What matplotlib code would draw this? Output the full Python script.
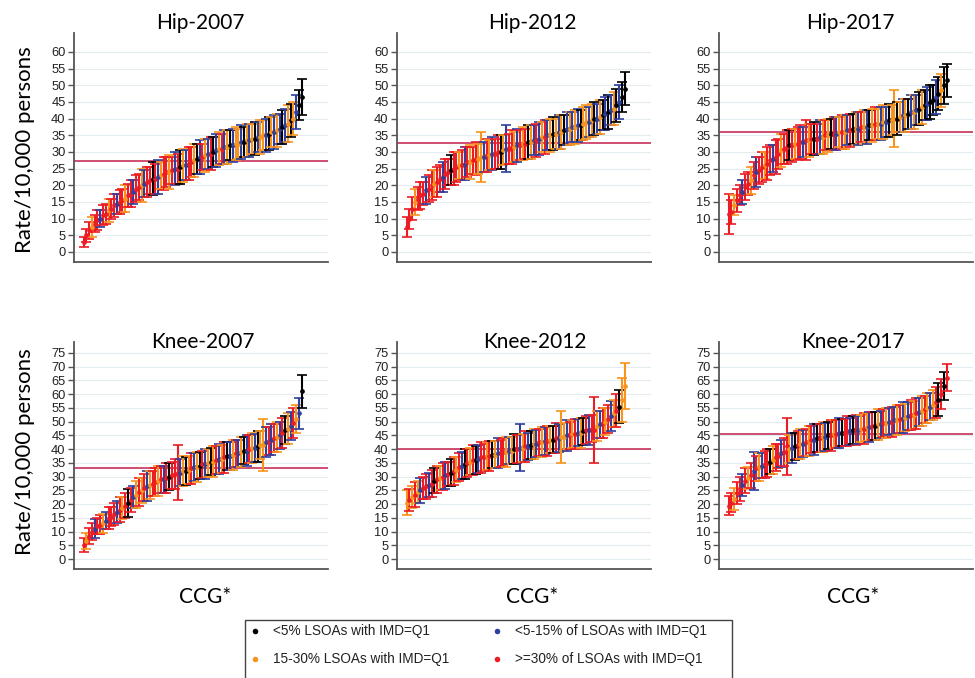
import numpy as np
import matplotlib
matplotlib.use("Agg")
import matplotlib.pyplot as plt
from matplotlib.patches import Rectangle

# ---------------- data ----------------
titles = ["Hip-2007", "Hip-2012", "Hip-2017", "Knee-2007", "Knee-2012", "Knee-2017"]

hip07_rate = [3, 5, 6.5, 7.5, 8.5, 9.5, 10, 11, 11.5, 12.5,
              13, 14, 14.5, 15, 15.5, 16, 17, 17.5, 18, 19,
              19.5, 20, 20.5, 21, 21.5, 22, 22, 22.5, 23, 23.5,
              24, 24, 24.5, 25, 25, 25.5, 26, 26, 26.5, 27,
              27.5, 28, 28.5, 28.5, 29, 29.5, 29.5, 30, 30.5, 31,
              31, 31.5, 31.5, 32, 32, 32.5, 32.5, 33, 33, 33.5,
              33.5, 34, 34, 34.5, 34.5, 35, 35, 35.5, 36, 36,
              36.5, 37, 37.5, 38, 38.5, 39.5, 40, 42, 44, 46.5]
hip07_hw = [1.5, 2, 2.5, 3, 2.5, 3, 2.5, 3, 3, 3.5,
            3, 3.5, 3, 3.5, 3.5, 4, 3.5, 4, 3.5, 4,
            4, 5, 4, 4.5, 4, 5, 4.5, 5, 4, 5,
            4.5, 5, 4, 5, 4.5, 5, 5, 4.5, 5, 4.5,
            5, 4.5, 5, 4, 5, 4.5, 5, 4.5, 5, 5,
            4.5, 5, 5, 4.5, 5, 5, 4.5, 5, 4.5, 5,
            5, 4.5, 5, 4.5, 5, 4.5, 5, 5, 4.5, 5,
            5, 4.5, 5, 5, 5.5, 5, 5, 5, 4.5, 5.5]
hip07_cat = "RRRORRBRRO RRBRRORRBR ROBRRKRBOR RORBRKOBRR OKBROBRKBO RBOKBOOBKO BOKBOOBKOB OBKBOKOBKK"

hip12_rate = [7.5, 10, 13, 15, 16, 17, 17.5, 18.5, 19, 20,
              20.5, 21, 22, 22.5, 23.5, 24, 24.5, 25, 25.5, 26,
              26, 26.5, 27, 27, 27.5, 28, 28, 28.5, 28.5, 29,
              29, 29.5, 29.5, 30, 30, 30.5, 31, 31, 31.5, 31.5,
              32, 32, 32.5, 32.5, 33, 33, 33.5, 33.5, 34, 34.5,
              34.5, 35, 35, 35.5, 35.5, 36, 36, 36.5, 37, 37,
              37.5, 37.5, 38, 38, 38.5, 39, 39, 39.5, 40, 40,
              40.5, 41, 41.5, 42, 42.5, 43, 44, 45, 46.5, 49]
hip12_hw = [3, 3, 3.5, 4, 3.5, 4, 3.5, 4, 4, 4.5,
            4, 4.5, 4, 4.5, 4.5, 4, 4.5, 5, 4.5, 4,
            4.5, 5, 4.5, 5, 4, 5, 4.5, 7.5, 4.5, 5,
            4.5, 5, 4.5, 5, 5, 4.5, 7, 4.5, 5, 4.5,
            5, 4.5, 5, 4.5, 5, 5, 4.5, 5, 5, 4.5,
            5, 4.5, 5, 5, 4.5, 5, 5, 4.5, 5, 5,
            4.5, 5, 5, 4.5, 5, 5, 4.5, 5, 5, 4.5,
            5, 4.5, 5, 5, 4.5, 5, 5, 5, 4.5, 5]
hip12_cat = "RRRORRRBRR ORRBRRKRRO RBRORROOBR OBRRKOBRRO BRORKOBRBO RBOKOBOKBO BOBKOOBOKB OKBKBOKBKK"

hip17_rate = [11.5, 12, 14, 15.5, 17, 18, 19.5, 20.5, 21.5, 23,
              24, 24.5, 25.5, 26, 26.5, 27.5, 28, 28.5, 29.5, 30.5,
              31, 31.5, 32, 32, 32.5, 32.5, 33, 33, 33.5, 33.5,
              34, 34, 34, 34.5, 34.5, 35, 35, 35.5, 35.5, 35.5,
              36, 36, 36, 36.5, 36.5, 37, 37, 37, 37.5, 37.5,
              37.5, 38, 38, 38.5, 38.5, 38.5, 39, 39, 39.5, 39.5,
              40, 40, 40.5, 41, 41, 41.5, 42, 42, 42.5, 43,
              43.5, 44, 44.5, 45, 45.5, 46.5, 47.5, 48.5, 50, 51.5]
hip17_hw = [6, 3.5, 3, 3.5, 3, 3.5, 4, 3.5, 4, 4,
            4.5, 4, 4.5, 4, 5, 4.5, 4, 5, 4.5, 5,
            4.5, 5, 4.5, 5, 4.5, 5, 5, 4.5, 6, 5,
            4.5, 5, 4.5, 5, 5, 4.5, 5, 4.5, 5, 5,
            4.5, 5, 5, 4.5, 5, 4.5, 5, 5, 4.5, 5,
            5, 4.5, 5, 5, 4.5, 5, 5, 4.5, 5, 4.5,
            8.5, 5, 4.5, 5, 5, 4.5, 5, 5, 4.5, 5,
            5, 4.5, 5, 5, 4.5, 5, 5, 5, 5.5, 5]
hip17_cat = "RRORRBRROR BRRORRBRRO RRKRORRBRO RKRBOROKRB OROBRKOBRO BKOROBOBKO OKOBOKBOBK OKBKKBKOKK"

knee07_rate = [5, 6.5, 8.5, 10, 11, 12, 12.5, 13, 14, 15,
               15.5, 16.5, 17, 18, 18.5, 19.5, 20.5, 21.5, 22.5, 23.5,
               24.5, 25, 26, 26.5, 27, 27.5, 28, 28.5, 29, 29,
               29.5, 30, 30.5, 31, 31.5, 31.5, 32, 32, 32.5, 33,
               33.5, 33.5, 34, 34.5, 34.5, 35, 35.5, 35.5, 36, 36.5,
               36.5, 37, 37.5, 37.5, 38, 38.5, 38.5, 39, 39.5, 39.5,
               40, 40.5, 40.5, 41, 41.5, 41.5, 42.5, 43, 43.5, 44,
               44.5, 45, 46, 47, 47.5, 48.5, 49.5, 51, 53, 61]
knee07_hw = [2.5, 3, 3, 3, 3.5, 3, 3.5, 3.5, 3, 4,
             3.5, 4, 4, 4.5, 4, 4.5, 5, 4.5, 4, 5,
             5, 4.5, 5, 5.5, 5, 4.5, 5, 5.5, 5, 5,
             5.5, 5, 5, 5.5, 10, 5, 5.5, 5, 5, 5.5,
             5, 5.5, 5, 5, 5.5, 5, 5, 5.5, 5, 5.5,
             5, 5.5, 5, 5, 5.5, 5, 5, 5.5, 5, 5.5,
             5, 5.5, 5, 5.5, 5, 9.5, 5.5, 5, 5.5, 5,
             5.5, 5, 5.5, 5, 5.5, 5, 5.5, 5, 5.5, 6]
knee07_cat = "RORRBRROBR RRBRORKRBO RORBORRORB RKRRRBOKOR BOKRBOKORB ORKBORBOKB ROBKOOBRBR OBRKOBROBK"

knee12_rate = [20.5, 21.5, 22.5, 23.5, 24.5, 25, 26, 26.5, 27, 27.5,
               28.5, 29, 29.5, 30, 30.5, 31, 31.5, 32, 32.5, 33.5,
               34, 34.5, 35, 35.5, 36, 36, 36.5, 37, 37, 37.5,
               37.5, 38, 38, 38.5, 38.5, 39, 39, 39.5, 39.5, 40,
               40, 40.5, 40.5, 41, 41, 41.5, 42, 42, 42.5, 42.5,
               43, 43, 43.5, 43.5, 44, 44, 44.5, 44.5, 45, 45,
               45.5, 45.5, 46, 46, 46.5, 47, 47, 47.5, 47, 48.5,
               49, 49.5, 50, 51, 52, 53, 54, 55.5, 58, 63]
knee12_hw = [4.5, 4, 4, 4.5, 4, 4.5, 4, 4.5, 4.5, 5,
             4.5, 5, 4.5, 5, 5, 4.5, 5, 5, 4.5, 5,
             5, 5.5, 5, 5, 5.5, 5, 5, 5.5, 5, 5,
             5.5, 5, 5, 5.5, 5, 5, 5.5, 5, 5, 5.5,
             5, 8.5, 5, 5.5, 5, 5, 5.5, 5, 5, 5.5,
             5, 5.5, 5, 5, 5.5, 5, 9.5, 5, 5.5, 5,
             5, 5.5, 5, 5.5, 5, 5, 5.5, 5, 12, 5.5,
             5, 5.5, 5, 5, 5.5, 5, 6, 6, 8, 8.5]
knee12_cat = "OROROBRRBR KRORBRKROR BKRORKBRRO RKOBRROBOK RBORBKOBRO BROKRBOOBR ORBOKRBRRO BRORBORKOO"

knee17_rate = [19.5, 20.5, 22, 24, 25.5, 27, 28.5, 29.5, 30.5, 32,
               33, 33.5, 34, 34.5, 35, 35.5, 36, 37, 37.5, 38.5,
               39, 41, 40, 40.5, 41, 41.5, 42, 42, 42.5, 43,
               43.5, 43.5, 44, 44, 44.5, 44.5, 45, 45, 45.5, 45.5,
               46, 46, 46, 46.5, 46.5, 47, 47, 47, 47.5, 47.5,
               48, 48, 48.5, 48.5, 49, 49, 49.5, 49.5, 50, 50,
               50.5, 50.5, 51, 51.5, 51.5, 52, 52.5, 52.5, 53, 53.5,
               54, 54.5, 55, 55.5, 56, 57, 58, 60, 63, 66]
knee17_hw = [3.5, 3.5, 4, 4, 4.5, 4, 4.5, 4, 4.5, 7,
             4.5, 5, 4.5, 5, 5, 4.5, 5, 5, 4.5, 5,
             5, 10.5, 5, 5.5, 5, 5, 5.5, 5, 5, 5.5,
             5, 5.5, 5, 5, 5.5, 5, 5, 5.5, 5, 5,
             5.5, 5, 5, 5.5, 5, 5, 5.5, 5, 5, 5.5,
             5, 5.5, 5, 5, 5.5, 5, 5, 5.5, 5, 5.5,
             5, 5.5, 5, 5.5, 5, 5, 5.5, 5, 5.5, 5,
             5.5, 5, 5.5, 5, 5.5, 5.5, 6, 5.5, 5, 5]
knee17_cat = "RRORRBRORB ROBRRKORRB RROBKROBRO RBKROBKROR BKRRBKRBOR OBRKOBROBR BORBOBRORB OROBORKRKR"

national_rate = [27.4, 32.7, 36.1, 33.1, 40.0, 45.5]

legend_labels = ["<5% LSOAs with IMD=Q1", "<5-15% of LSOAs with IMD=Q1",
                 "15-30% LSOAs with IMD=Q1", ">=30% of LSOAs with IMD=Q1"]
legend_codes = ["K", "B", "O", "R"]

colors = {"K": "#000000", "B": "#2e3f9e", "O": "#f7941d", "R": "#ec1c24"}

rates = [hip07_rate, hip12_rate, hip17_rate, knee07_rate, knee12_rate, knee17_rate]
hws = [hip07_hw, hip12_hw, hip17_hw, knee07_hw, knee12_hw, knee17_hw]
cats = [hip07_cat, hip12_cat, hip17_cat, knee07_cat, knee12_cat, knee17_cat]

# ---------------- layout ----------------
W, H = 975, 678
fig = plt.figure(figsize=(W / 100, H / 100), dpi=100)

lefts = [74, 397, 719]
rights = [328, 651, 973]
rows = [(33, 262), (342, 569)]
title_pos = [(200, 23), (532, 23), (850, 23), (203, 342), (535, 342), (853, 342)]
xlab_pos = [205, 532, 853]

tick_font = {"family": "Liberation Sans", "size": 9.3}

for k in range(6):
    r, c = divmod(k, 3)
    ytop, ybot = rows[r]
    ax = fig.add_axes([lefts[c] / W, 1 - ybot / H, (rights[c] - lefts[c]) / W, (ybot - ytop) / H])
    y = np.array(rates[k], dtype=float)
    e = np.array(hws[k], dtype=float)
    cc = cats[k].replace(" ", "")
    x = np.arange(len(y))
    for i in range(len(y)):
        col = colors[cc[i]]
        ax.errorbar(x[i], y[i], yerr=e[i], fmt="none", ecolor=col,
                    elinewidth=1.5, capsize=3.4, capthick=1.2, zorder=3)
    for i in range(len(y)):
        col = colors[cc[i]]
        ax.plot(x[i], y[i], "o", ms=3.4, color=col, mec="none", zorder=4)
    ax.axhline(national_rate[k], color="#c9305a", lw=1.2, zorder=2)
    if r == 0:
        ax.set_ylim(-3, 65.7)
        ticks = np.arange(0, 61, 5)
    else:
        ax.set_ylim(-3.6, 79)
        ticks = np.arange(0, 76, 5)
    ax.set_yticks(ticks)
    ax.set_yticklabels([str(t) for t in ticks], fontdict=tick_font)
    ax.set_xlim(-3.5, 88.5)
    ax.set_xticks([])
    for t in ticks:
        ax.axhline(t, color="#e3ecf1", lw=0.8, zorder=1)
    for s in ["top", "right"]:
        ax.spines[s].set_visible(False)
    for s in ["left", "bottom"]:
        ax.spines[s].set_color("#555555")
        ax.spines[s].set_linewidth(1.3)
    ax.tick_params(axis="y", length=4, width=1, color="#555555", pad=2, labelcolor="#222222")
    ax.set_facecolor("none")

    tx, ty = title_pos[k]
    fig.text(tx / W, 1 - ty / H, titles[k], ha="center", va="center",
             fontsize=15, family="Lato")
    if r == 1:
        fig.text(xlab_pos[c] / W, 1 - 597 / H, "CCG*", ha="center", va="center",
                 fontsize=15, family="Lato")

fig.text(25 / W, 1 - 150 / H, "Rate/10,000 persons", rotation=90, ha="center", va="center",
         fontsize=16, family="Lato")
fig.text(25 / W, 1 - 452 / H, "Rate/10,000 persons", rotation=90, ha="center", va="center",
         fontsize=16, family="Lato")

# ---------------- legend ----------------
lax = fig.add_axes([0, 0, 1, 1])
lax.set_xlim(0, W)
lax.set_ylim(H, 0)
lax.axis("off")
lax.add_patch(Rectangle((245, 620), 487, 70, fill=False, edgecolor="#444444", lw=1.0))
leg_xy = [(255, 631), (497, 631), (255, 659), (497, 659)]
for (lx, ly), lab, code in zip(leg_xy, legend_labels, legend_codes):
    lax.plot([lx], [ly], "o", ms=4, color=colors[code], mec="none")
    lax.text(lx + 18, ly, lab, va="center", ha="left", fontsize=9.8,
             family="Liberation Sans", color="#222222")

fig.savefig("out.png", dpi=100)
